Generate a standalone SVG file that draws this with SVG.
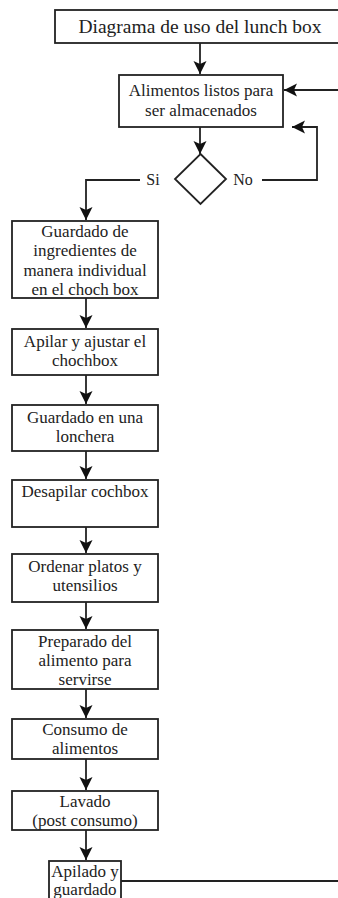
<svg xmlns="http://www.w3.org/2000/svg" width="338" height="898" viewBox="0 0 338 898">
<style>
.box{fill:#fff;stroke:#222;stroke-width:1.8}
.ln{fill:none;stroke:#222;stroke-width:1.8}
text{font-family:"Liberation Serif","Times New Roman",serif;font-size:17px;fill:#222;text-anchor:middle}
.t{font-size:19.5px}
.lb{font-size:16px}
</style>
<defs>
<marker id="ah" markerUnits="userSpaceOnUse" markerWidth="14" markerHeight="14" viewBox="0 0 14 14" refX="13" refY="7" orient="auto">
<path d="M0,0.5 L13,7 L0,13.5 L3,7 Z" fill="#111"/>
</marker>
</defs>
<rect width="338" height="898" fill="#fff"/>
<g id="connectors">
<line class="ln" x1="200" y1="43" x2="200" y2="74" marker-end="url(#ah)"/>
<line class="ln" x1="338" y1="90" x2="284" y2="90" marker-end="url(#ah)"/>
<polyline class="ln" points="262,180 317,180 317,127 292,127" marker-end="url(#ah)"/>
<line class="ln" x1="200" y1="127" x2="200" y2="154" marker-end="url(#ah)"/>
<polyline class="ln" points="140,180 86,180 86,220" marker-end="url(#ah)"/>
<line class="ln" x1="86" y1="298" x2="86" y2="328" marker-end="url(#ah)"/>
<line class="ln" x1="86" y1="375" x2="86" y2="404" marker-end="url(#ah)"/>
<line class="ln" x1="86" y1="451" x2="86" y2="479" marker-end="url(#ah)"/>
<line class="ln" x1="86" y1="527" x2="86" y2="553" marker-end="url(#ah)"/>
<line class="ln" x1="86" y1="602" x2="86" y2="629" marker-end="url(#ah)"/>
<line class="ln" x1="86" y1="689" x2="86" y2="718" marker-end="url(#ah)"/>
<line class="ln" x1="86" y1="759" x2="86" y2="790" marker-end="url(#ah)"/>
<line class="ln" x1="86" y1="830" x2="86" y2="860" marker-end="url(#ah)"/>
<line class="ln" x1="121" y1="881" x2="338" y2="881"/>
<text class="lb" x="153" y="185">Si</text>
<text class="lb" x="243" y="185">No</text>
</g>
<g id="title">
<rect class="box" x="55" y="10" width="290" height="33"/>
<text class="t" x="200" y="33">Diagrama de uso del lunch box</text>
</g>
<g id="alimentos">
<rect class="box" x="119" y="75" width="164" height="52"/>
<text x="201" y="96">Alimentos listos para</text>
<text x="201" y="116">ser almacenados</text>
</g>
<g id="decision">
<polygon class="box" points="200.5,154 226,179 200.5,204 175,179"/>
</g>
<g id="guardado">
<rect class="box" x="12" y="221" width="146" height="77"/>
<text x="85" y="237">Guardado de</text>
<text x="85" y="256">ingredientes de</text>
<text x="85" y="276">manera individual</text>
<text x="85" y="295">en el choch box</text>
</g>
<g id="apilar">
<rect class="box" x="12" y="329" width="146" height="46"/>
<text x="85" y="347">Apilar y ajustar el</text>
<text x="85" y="366">chochbox</text>
</g>
<g id="lonchera">
<rect class="box" x="12" y="405" width="146" height="46"/>
<text x="85" y="423">Guardado en una</text>
<text x="85" y="442">lonchera</text>
</g>
<g id="desapilar">
<rect class="box" x="12" y="480" width="146" height="47"/>
<text x="85" y="497">Desapilar cochbox</text>
</g>
<g id="ordenar">
<rect class="box" x="12" y="554" width="146" height="48"/>
<text x="85" y="572">Ordenar platos y</text>
<text x="85" y="591">utensilios</text>
</g>
<g id="preparado">
<rect class="box" x="12" y="630" width="146" height="59"/>
<text x="85" y="647">Preparado del</text>
<text x="85" y="666">alimento para</text>
<text x="85" y="685">servirse</text>
</g>
<g id="consumo">
<rect class="box" x="12" y="719" width="146" height="40"/>
<text x="85" y="735">Consumo de</text>
<text x="85" y="754">alimentos</text>
</g>
<g id="lavado">
<rect class="box" x="12" y="791" width="146" height="39"/>
<text x="85" y="807">Lavado</text>
<text x="85" y="826">(post consumo)</text>
</g>
<g id="apilado">
<rect class="box" x="49" y="861" width="72" height="45"/>
<text x="85" y="877">Apilado y</text>
<text x="85" y="895">guardado</text>
</g>
</svg>
